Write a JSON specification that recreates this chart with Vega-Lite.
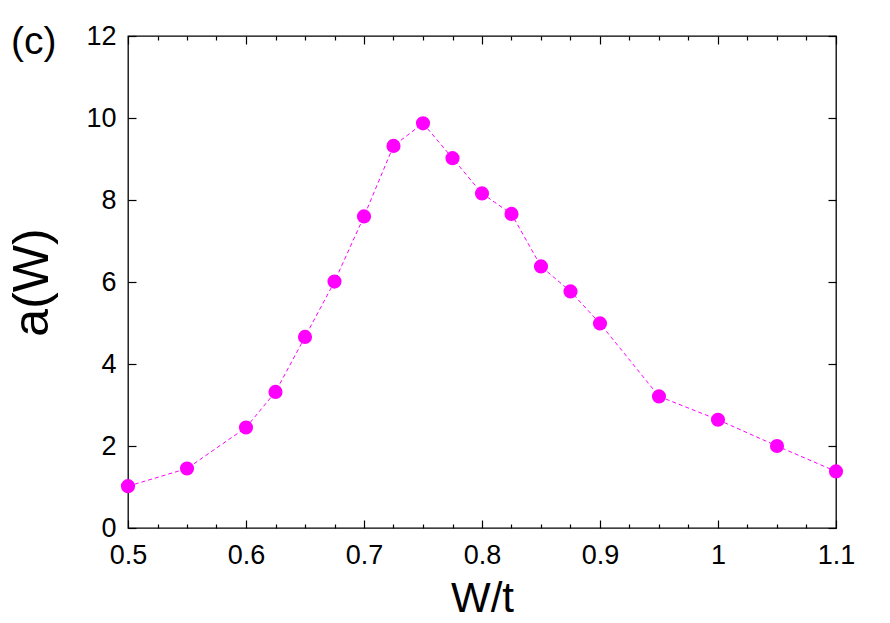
{
  "$schema": "https://vega.github.io/schema/vega-lite/v6.json",
  "autosize": "none",
  "width": 708,
  "height": 492,
  "padding": {"left": 128, "top": 36, "right": 54, "bottom": 95},
  "background": "white",
  "title": {"text": "(c)", "anchor": "start", "frame": "group", "dx": -117, "fontSize": 39, "font": "Liberation Sans", "fontWeight": "normal", "color": "black", "offset": -40},
  "config": {
    "view": {"stroke": "black", "strokeWidth": 1.3},
    "axis": {"grid": false, "domain": false, "tickColor": "black", "labelColor": "black", "titleColor": "black", "labelFont": "Liberation Sans", "titleFont": "Liberation Sans", "titleFontWeight": "normal", "tickWidth": 1.2, "labelFlush": false}
  },
  "data": {"values": [
    {"W": 0.5, "a": 1.02},
    {"W": 0.55, "a": 1.45},
    {"W": 0.6, "a": 2.45},
    {"W": 0.625, "a": 3.32},
    {"W": 0.65, "a": 4.66},
    {"W": 0.675, "a": 6.01},
    {"W": 0.7, "a": 7.6},
    {"W": 0.725, "a": 9.32},
    {"W": 0.75, "a": 9.87},
    {"W": 0.775, "a": 9.02},
    {"W": 0.8, "a": 8.16},
    {"W": 0.825, "a": 7.66},
    {"W": 0.85, "a": 6.38},
    {"W": 0.875, "a": 5.77},
    {"W": 0.9, "a": 4.99},
    {"W": 0.95, "a": 3.21},
    {"W": 1.0, "a": 2.64},
    {"W": 1.05, "a": 2.0},
    {"W": 1.1, "a": 1.38}
  ]},
  "resolve": {"axis": {"x": "independent", "y": "independent"}},
  "layer": [
    {
      "mark": {"type": "line", "stroke": "#ff00ff", "strokeWidth": 1, "strokeDash": [4, 3]},
      "encoding": {
        "x": {"field": "W", "type": "quantitative", "scale": {"domain": [0.5, 1.1], "nice": false, "zero": false},
          "axis": {"orient": "bottom", "values": [0.5, 0.6, 0.7, 0.8, 0.9, 1, 1.1], "format": "~g", "tickSize": -8, "labelFontSize": 27, "labelPadding": 22, "title": "W/t", "titleFontSize": 42, "titlePadding": 10}},
        "y": {"field": "a", "type": "quantitative", "scale": {"domain": [0, 12], "nice": false, "zero": true},
          "axis": {"orient": "left", "values": [0, 2, 4, 6, 8, 10, 12], "tickSize": -8, "labelFontSize": 27, "labelPadding": 20, "title": "a(W)", "titleFontSize": 50, "titlePadding": 28}}
      }
    },
    {
      "mark": {"type": "point", "filled": true, "color": "#ff00ff", "opacity": 1, "size": 200},
      "encoding": {
        "x": {"field": "W", "type": "quantitative", "axis": {"orient": "top", "values": [0.5, 0.6, 0.7, 0.8, 0.9, 1, 1.1], "tickSize": -8, "labels": false, "title": null}},
        "y": {"field": "a", "type": "quantitative", "axis": {"orient": "right", "values": [0, 2, 4, 6, 8, 10, 12], "tickSize": -8, "labels": false, "title": null}}
      }
    },
    {
      "mark": {"type": "point", "opacity": 0},
      "encoding": {
        "x": {"field": "W", "type": "quantitative", "axis": {"orient": "bottom", "values": [0.525, 0.55, 0.575, 0.625, 0.65, 0.675, 0.725, 0.75, 0.775, 0.825, 0.85, 0.875, 0.925, 0.95, 0.975, 1.025, 1.05, 1.075], "tickSize": -4, "labels": false, "title": null}},
        "y": {"field": "a", "type": "quantitative", "axis": null}
      }
    },
    {
      "mark": {"type": "point", "opacity": 0},
      "encoding": {
        "x": {"field": "W", "type": "quantitative", "axis": {"orient": "top", "values": [0.525, 0.55, 0.575, 0.625, 0.65, 0.675, 0.725, 0.75, 0.775, 0.825, 0.85, 0.875, 0.925, 0.95, 0.975, 1.025, 1.05, 1.075], "tickSize": -4, "labels": false, "title": null}},
        "y": {"field": "a", "type": "quantitative", "axis": null}
      }
    }
  ]
}
